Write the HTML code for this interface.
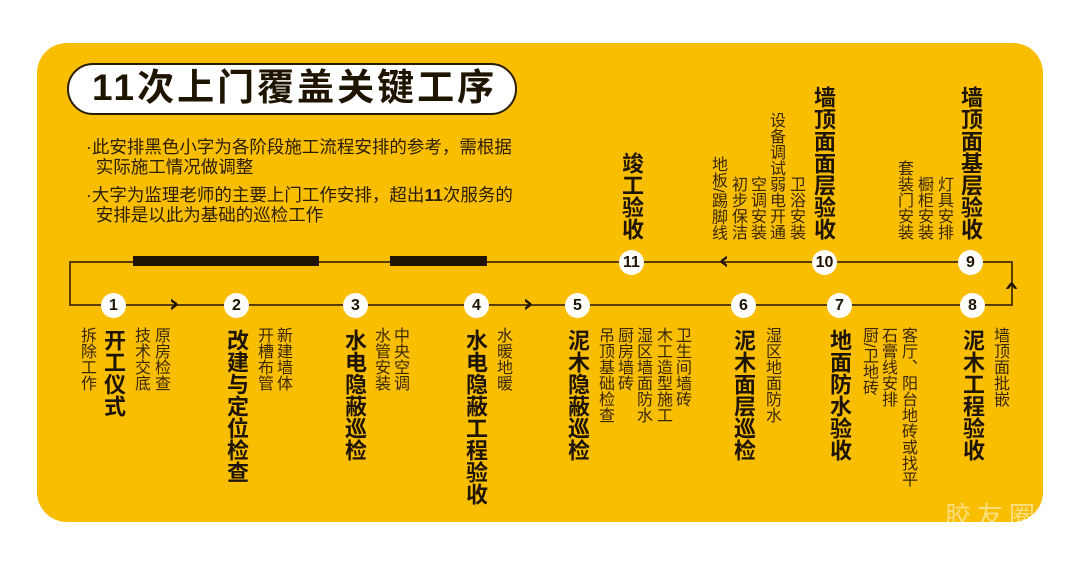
<!DOCTYPE html>
<html><head><meta charset="utf-8"><style>
html,body{margin:0;padding:0;background:#fff;width:1080px;height:566px;overflow:hidden}
body{position:relative;font-family:"Liberation Sans","Noto Sans CJK SC",sans-serif;color:#2b1d00}
.card{position:absolute;left:37px;top:43px;width:1006px;height:479px;background:#F9BE00;border-radius:30px}
.pill{position:absolute;left:67px;top:63px;width:446px;height:48px;background:#fff;border:2px solid #2b1d00;border-radius:26px}
.title{position:absolute;left:92px;top:62px;font-size:37px;font-weight:bold;line-height:52px;letter-spacing:3px;color:#1e1400}
.note{position:absolute;left:86px;font-size:17.5px;line-height:20px;color:#2b1d00;white-space:nowrap}
.v{position:absolute;writing-mode:vertical-rl;line-height:1;white-space:nowrap}
.s{font-size:16px;width:16px;color:#3a2800}
.b{font-size:22px;width:22px;font-weight:bold;color:#1e1400}
.c{position:absolute;width:25px;height:25px;border-radius:50%;background:#fff;font-weight:bold;font-size:16px;line-height:25px;text-align:center;color:#1e1400;font-family:"Liberation Sans",sans-serif}
.ln{position:absolute;background:#5a3d00}
.bar{position:absolute;background:#1e1400;height:10px;top:256px}
.ch{position:absolute;width:12px;height:20px;text-align:center;font-size:26px;font-weight:bold;color:#1e1400;line-height:20px;font-family:"DejaVu Sans",sans-serif}
</style></head><body>
<div class="card"></div>
<div class="pill"></div>
<div class="title">11次上门覆盖关键工序</div>
<div class="note" style="top:137px">·此安排黑色小字为各阶段施工流程安排的参考，需根据<br>&nbsp;&nbsp;实际施工情况做调整</div>
<div class="note" style="top:185px">·大字为监理老师的主要上门工作安排，超出<b>11</b>次服务的<br>&nbsp;&nbsp;安排是以此为基础的巡检工作</div>

<div class="ln" style="left:69px;top:261px;width:944px;height:2px"></div>
<div class="ln" style="left:69px;top:304px;width:944px;height:2px"></div>
<div class="ln" style="left:69px;top:261px;width:2px;height:45px"></div>
<div class="ln" style="left:1011px;top:261px;width:2px;height:45px"></div>
<div class="bar" style="left:133px;width:186px"></div>
<div class="bar" style="left:390px;width:97px"></div>
<div class="ch" style="left:168px;top:294px">›</div>
<div class="ch" style="left:522px;top:294px">›</div>
<div class="ch" style="left:718px;top:251px">‹</div>
<div class="ch" style="left:1006px;top:276px;transform:rotate(90deg)">‹</div>

<div class="c" style="left:101px;top:293px">1</div>
<div class="c" style="left:224px;top:293px">2</div>
<div class="c" style="left:343px;top:293px">3</div>
<div class="c" style="left:464px;top:293px">4</div>
<div class="c" style="left:565px;top:293px">5</div>
<div class="c" style="left:731px;top:293px">6</div>
<div class="c" style="left:827px;top:293px">7</div>
<div class="c" style="left:960px;top:293px">8</div>
<div class="c" style="left:958px;top:250px">9</div>
<div class="c" style="left:812px;top:250px">10</div>
<div class="c" style="left:619px;top:250px">11</div>

<div class="v s" style="left:78px;top:327px">拆除工作</div>
<div class="v b" style="left:102px;top:329px">开工仪式</div>
<div class="v s" style="left:132px;top:327px">技术交底</div>
<div class="v s" style="left:152px;top:327px">原房检查</div>
<div class="v b" style="left:225px;top:329px">改建与定位检查</div>
<div class="v s" style="left:255px;top:327px">开槽布管</div>
<div class="v s" style="left:274px;top:327px">新建墙体</div>
<div class="v b" style="left:343px;top:329px">水电隐蔽巡检</div>
<div class="v s" style="left:372px;top:327px">水管安装</div>
<div class="v s" style="left:391px;top:327px">中央空调</div>
<div class="v b" style="left:464px;top:329px">水电隐蔽工程验收</div>
<div class="v s" style="left:494px;top:327px">水暖地暖</div>
<div class="v b" style="left:566px;top:329px">泥木隐蔽巡检</div>
<div class="v s" style="left:596px;top:327px">吊顶基础检查</div>
<div class="v s" style="left:615px;top:327px">厨房墙砖</div>
<div class="v s" style="left:634px;top:327px">湿区墙面防水</div>
<div class="v s" style="left:654px;top:327px">木工造型施工</div>
<div class="v s" style="left:673px;top:327px">卫生间墙砖</div>
<div class="v b" style="left:732px;top:329px">泥木面层巡检</div>
<div class="v s" style="left:763px;top:327px">湿区地面防水</div>
<div class="v b" style="left:828px;top:329px">地面防水验收</div>
<div class="v s" style="left:860px;top:327px">厨/卫地砖</div>
<div class="v s" style="left:879px;top:327px">石膏线安排</div>
<div class="v s" style="left:899px;top:327px">客厅、阳台地砖或找平</div>
<div class="v b" style="left:961px;top:329px">泥木工程验收</div>
<div class="v s" style="left:991px;top:327px">墙顶面批嵌</div>

<div class="v b" style="left:620px;bottom:326px">竣工验收</div>
<div class="v s" style="left:709px;bottom:326px">地板/踢脚线</div>
<div class="v s" style="left:729px;bottom:326px">初步保洁</div>
<div class="v s" style="left:748px;bottom:326px">空调安装</div>
<div class="v s" style="left:767px;bottom:326px">设备调试弱电开通</div>
<div class="v s" style="left:787px;bottom:326px">卫浴安装</div>
<div class="v b" style="left:812px;bottom:326px">墙顶面面层验收</div>
<div class="v s" style="left:895px;bottom:326px">套装门安装</div>
<div class="v s" style="left:915px;bottom:326px">橱柜安装</div>
<div class="v s" style="left:935px;bottom:326px">灯具安排</div>
<div class="v b" style="left:959px;bottom:326px">墙顶面基层验收</div>

<div style="position:absolute;left:945px;top:496px;font-size:26px;color:rgba(255,255,255,0.5);letter-spacing:6px;white-space:nowrap">胶友圈</div>
</body></html>
